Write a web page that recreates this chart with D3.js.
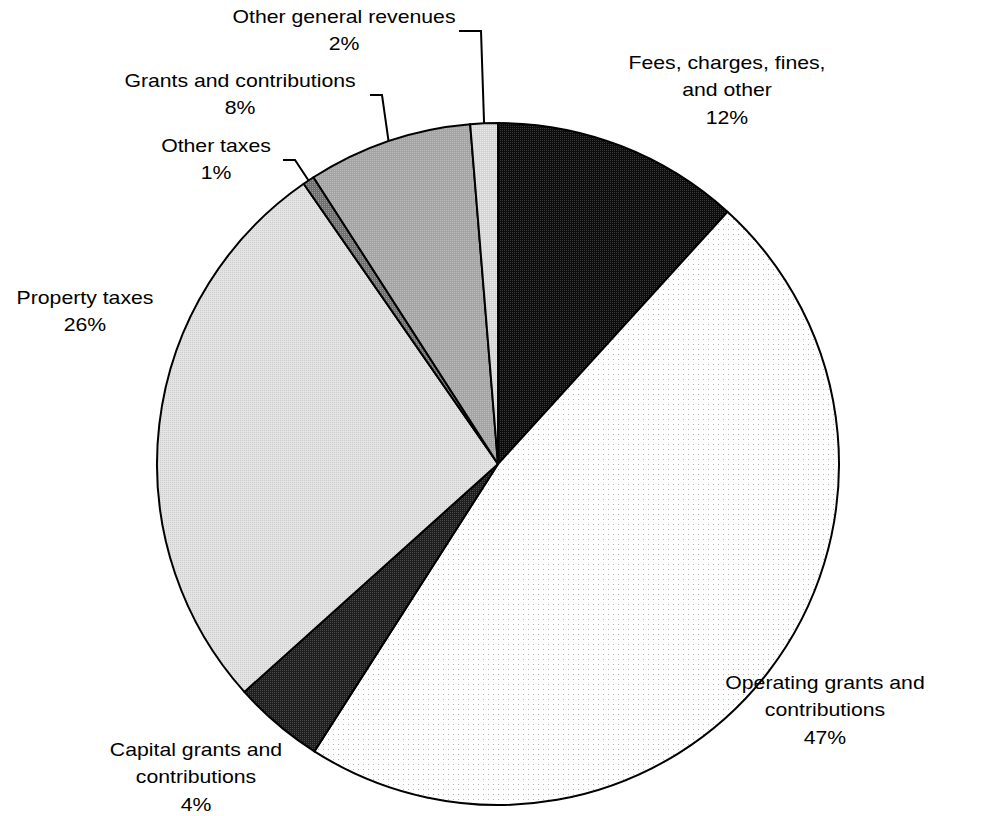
<!DOCTYPE html>
<html>
<head>
<meta charset="utf-8">
<script src="https://cdn.jsdelivr.net/npm/d3@7"></script>
<style>
  html, body { margin: 0; padding: 0; background: #fff; }
  svg text { font-family: "Liberation Sans", Arial, sans-serif; font-size: 18px; fill: #000; }
</style>
</head>
<body>
<svg id="chart" width="989" height="816"></svg>
<script>
"use strict";

// revenue categories, clockwise from 12 o'clock
const categories = [
  "Fees, charges, fines, and other",
  "Operating grants and contributions",
  "Capital grants and contributions",
  "Property taxes",
  "Other taxes",
  "Grants and contributions",
  "Other general revenues"
];
// shares (percent)
const shares = [11.75, 47.3, 4.3, 27.0, 0.55, 7.8, 1.3];
const pctLabels = ["12%", "47%", "4%", "26%", "1%", "8%", "2%"];
// label lines as printed
const labelLines = [
  ["Fees, charges, fines,", "and other"],
  ["Operating grants and", "contributions"],
  ["Capital grants and", "contributions"],
  ["Property taxes"],
  ["Other taxes"],
  ["Grants and contributions"],
  ["Other general revenues"]
];

// layout
const cx = 498, cy = 464, radius = 341;
const lineH = 27.5;
const textStretch = 1.18; // the labels are drawn a bit wide in the original
const labelPos = [
  { x: 727, y: 69 },
  { x: 825, y: 689 },
  { x: 196, y: 756 },
  { x: 85, y: 304 },
  { x: 216, y: 152 },
  { x: 240, y: 87 },
  { x: 344, y: 23 }
];
// leader elbows (only for the small slices at the top)
const leaders = [null, null, null, null,
  { elbow: [295, 160], end: 283 },
  { elbow: [382, 95], end: 370 },
  { elbow: [481, 31], end: 459 }
];
const fills = [
  { base: "#0c0c0c", dot: "#3a3a3a" },
  { base: "#ffffff", dot: "#b4b4b4", sparse: true },
  { base: "#1e1e1e", dot: "#4a4a4a" },
  { base: "#e4e4e4", dot: "#cccccc" },
  { base: "#6e6e6e", dot: "#9a9a9a" },
  { base: "#a4a4a4", dot: "#bdbdbd" },
  { base: "#d4d4d4", dot: "#ececec" }
];

const svg = d3.select("#chart");
const defs = svg.append("defs");

fills.forEach((f, i) => {
  const size = f.sparse ? 5 : 2;
  const p = defs.append("pattern").attr("id", "pat" + i)
    .attr("patternUnits", "userSpaceOnUse")
    .attr("width", size).attr("height", size);
  p.append("rect").attr("width", size).attr("height", size).attr("fill", f.base);
  p.append("rect").attr("width", 1).attr("height", 1).attr("fill", f.dot);
});

const data = categories.map((c, i) => ({ name: c, value: shares[i], idx: i }));

const pie = d3.pie().value(d => d.value).sort(null);
const arc = d3.arc().innerRadius(0).outerRadius(radius);
const arcs = pie(data);

const g = svg.append("g").attr("transform", `translate(${cx},${cy})`);

g.selectAll("path.slice").data(arcs).enter().append("path")
  .attr("class", "slice")
  .attr("d", arc)
  .attr("fill", d => `url(#pat${d.data.idx})`)
  .attr("stroke", "#000")
  .attr("stroke-width", 2)
  .attr("stroke-linejoin", "round");

// leader lines for the thin slices
arcs.forEach(d => {
  const l = leaders[d.data.idx];
  if (!l) return;
  const mid = (d.startAngle + d.endAngle) / 2;
  const px = cx + radius * Math.sin(mid), py = cy - radius * Math.cos(mid);
  svg.append("polyline")
    .attr("points", `${px},${py} ${l.elbow[0]},${l.elbow[1]} ${l.end},${l.elbow[1]}`)
    .attr("fill", "none").attr("stroke", "#000").attr("stroke-width", 2);
});

// labels
data.forEach((d, i) => {
  const lines = labelLines[i].concat([pctLabels[i]]);
  const t = svg.append("text")
    .attr("text-anchor", "middle")
    .attr("transform", `translate(${labelPos[i].x},${labelPos[i].y}) scale(${textStretch},1)`);
  lines.forEach((s, k) => {
    t.append("tspan").attr("x", 0).attr("dy", k === 0 ? 0 : lineH).text(s);
  });
});
</script>
</body>
</html>
